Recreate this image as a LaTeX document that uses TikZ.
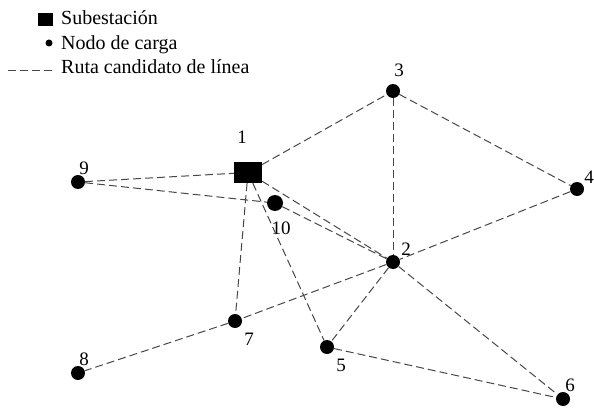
\documentclass[tikz,border=0pt]{standalone}
\usepackage{fontspec}
\setmainfont{Liberation Serif}
\usepackage{tikz}

\begin{document}
\begin{tikzpicture}
			[x=1pt,y=-1pt,line cap=butt,
			%Styles
			route/.style={line width=1pt,black!72,dash pattern=on 8pt off 4pt},
			substation/.style={rectangle,fill,inner sep=0pt,minimum width=28pt,minimum height=21pt},
			load/.style={circle,fill,inner sep=0pt,minimum size=14pt},
			num/.style={inner sep=0pt,font=\fontsize{19}{22}\selectfont},
			legend text/.style={anchor=base west,inner sep=0pt,font=\fontsize{20}{24}\selectfont}
			]
			\useasboundingbox (0,0) rectangle (594,409);
			
			%Legend
			\node[rectangle,fill,inner sep=0pt,minimum width=15pt,minimum height=13pt] (keysub) at (45,19.5) {};
			\node[circle,fill,inner sep=0pt,minimum size=7pt] (keyload) at (49,43) {};
			\coordinate (keyA) at (8,70.5);
			\coordinate (keyB) at (52,70.5);
			\draw[route] (keyA) -- (keyB);
			\node[legend text] (txtsub) at (61,25) {Subestación};
			\node[legend text] (txtload) at (61,49.5) {Nodo de carga};
			\node[legend text] (txtroute) at (61,74) {Ruta candidato de línea};
			
			%Nodes
			\node[substation] (s1) at (248,172.5) {};
			\node[load] (n2) at (393,262) {};
			\node[load] (n3) at (393,91) {};
			\node[load] (n4) at (577,189) {};
			\node[load] (n5) at (327,347) {};
			\node[load] (n6) at (563,399) {};
			\node[load] (n7) at (235,321) {};
			\node[load] (n8) at (78,373) {};
			\node[load] (n9) at (78,182) {};
			\node[load,minimum width=16pt] (n10) at (275,203) {};
			
			%Numbers
			\node[num] (lab1) at (242,137) {1};
			\node[num] (lab2) at (406,249) {2};
			\node[num] (lab3) at (399,70) {3};
			\node[num] (lab4) at (589,177) {4};
			\node[num] (lab5) at (341,365) {5};
			\node[num] (lab6) at (570,385) {6};
			\node[num] (lab7) at (249,339) {7};
			\node[num] (lab8) at (84,359) {8};
			\node[num] (lab9) at (84,168) {9};
			\node[num] (lab10) at (281,228) {10};
			
			%Routes
			\draw[route] (n9) -- (s1);
			\draw[route] (n9) -- (n10);
			\draw[route] (n10) -- (n2);
			\draw[route] (s1) -- (n3);
			\draw[route] (s1) -- (n2);
			\draw[route] (s1) -- (n7);
			\draw[route] (s1) -- (n5);
			\draw[route] (n3) -- (n2);
			\draw[route] (n3) -- (n4);
			\draw[route] (n4) -- (n2);
			\draw[route] (n2) -- (n7);
			\draw[route] (n7) -- (n8);
			\draw[route] (n2) -- (n5);
			\draw[route] (n2) -- (n6);
			\draw[route] (n5) -- (n6);
		\end{tikzpicture}
\end{document}
